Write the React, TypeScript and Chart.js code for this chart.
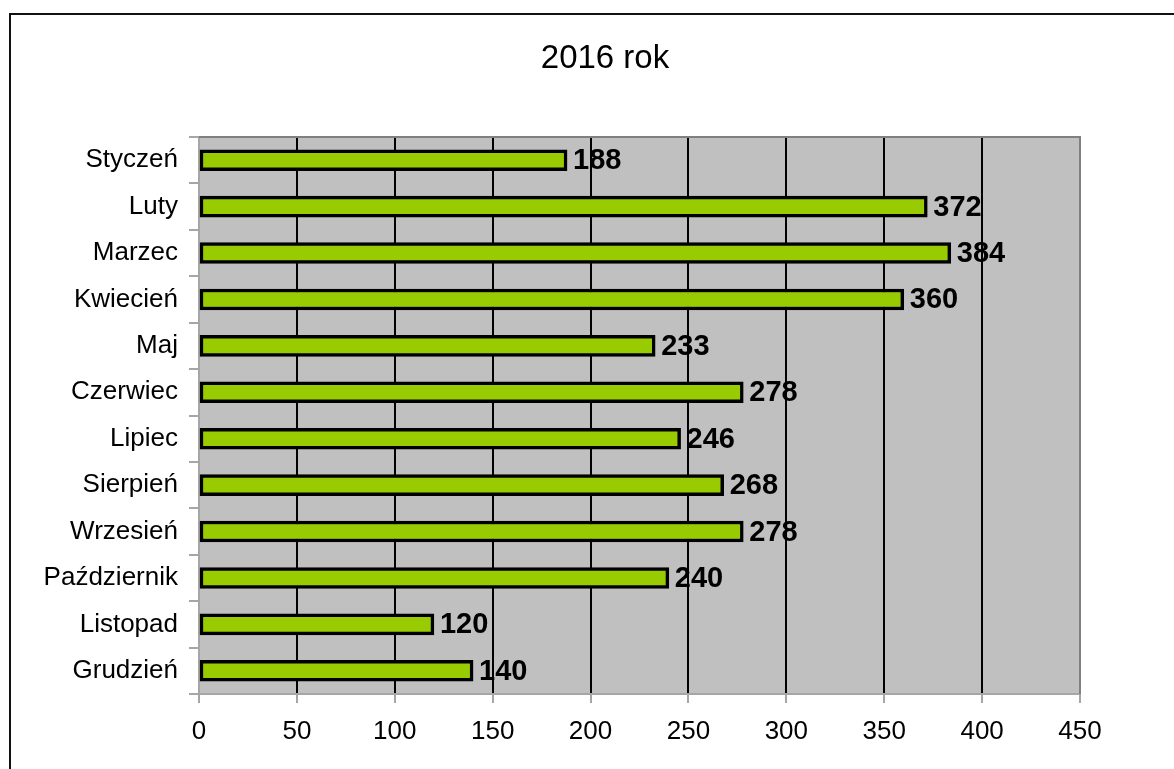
import React, { useEffect, useRef } from "react";
import { Chart, registerables } from "chart.js";

Chart.register(...registerables);

const months = [
  "Styczeń", "Luty", "Marzec", "Kwiecień", "Maj", "Czerwiec",
  "Lipiec", "Sierpień", "Wrzesień", "Październik", "Listopad", "Grudzień",
];
const values = [188, 372, 384, 360, 233, 278, 246, 268, 278, 240, 120, 140];
const titleText = "2016 rok";
const xMin = 0;
const xMax = 450;
const xStep = 50;

const FONT = "'Liberation Sans', Arial, sans-serif";

const framePlugin = {
  id: "framePlugin",
  beforeDraw(chart: any) {
    const { ctx, chartArea } = chart;
    ctx.save();
    ctx.fillStyle = "#ffffff";
    ctx.fillRect(0, 0, chart.width, chart.height);
    ctx.fillStyle = "#c0c0c0";
    ctx.fillRect(chartArea.left, chartArea.top, chartArea.right - chartArea.left, chartArea.bottom - chartArea.top);
    ctx.strokeStyle = "#111111";
    ctx.lineWidth = 2;
    ctx.strokeRect(10, 14, chart.width + 40, chart.height + 40);
    // title
    ctx.fillStyle = "#000000";
    ctx.font = `33px ${FONT}`;
    ctx.textAlign = "center";
    ctx.textBaseline = "middle";
    ctx.fillText(titleText, 605, 59);
    ctx.restore();
  },
  afterDatasetsDraw(chart: any) {
    const { ctx, chartArea } = chart;
    ctx.save();
    ctx.strokeStyle = "#808080";
    ctx.lineWidth = 2;
    ctx.beginPath();
    ctx.moveTo(chartArea.left, chartArea.top);
    ctx.lineTo(chartArea.right, chartArea.top);
    ctx.lineTo(chartArea.right, chartArea.bottom);
    ctx.stroke();
    // data labels
    const meta = chart.getDatasetMeta(0);
    ctx.fillStyle = "#000000";
    ctx.font = `bold 29px ${FONT}`;
    ctx.textAlign = "left";
    ctx.textBaseline = "middle";
    meta.data.forEach((bar: any, i: number) => {
      ctx.fillText(String(values[i]), bar.x + 6, bar.y + 1);
    });
    ctx.restore();
  },
};

export default function App() {
  const ref = useRef<HTMLCanvasElement | null>(null);
  useEffect(() => {
    if (!ref.current) return;
    const chart = new Chart(ref.current, {
      type: "bar",
      data: {
        labels: months,
        datasets: [
          {
            data: values,
            backgroundColor: "#99cc00",
            borderColor: "#000000",
            borderWidth: 3.5,
            borderSkipped: false,
            barThickness: 21,
          },
        ],
      },
      options: {
        indexAxis: "y",
        animation: false,
        responsive: false,
        maintainAspectRatio: false,
        layout: { padding: { left: 0, right: 94, top: 137, bottom: 0 } },
        plugins: {
          legend: { display: false },
          tooltip: { enabled: false },
          title: { display: false },
        },
        scales: {
          x: {
            type: "linear",
            min: xMin,
            max: xMax,
            afterFit: (s: any) => { s.height = 75; },
            ticks: {
              stepSize: xStep,
              color: "#000000",
              font: { family: FONT, size: 26 },
              padding: 13,
            },
            grid: {
              color: (c: any) =>
                c.tick && (c.tick.value === xMin || c.tick.value === xMax) ? "rgba(0,0,0,0)" : "#000000",
              lineWidth: 2,
              tickColor: "#a6a6a6",
              tickLength: 9,
              drawTicks: true,
            },
            border: { display: true, color: "#a6a6a6", width: 2 },
          },
          y: {
            type: "category",
            afterFit: (s: any) => { s.width = 199; },
            ticks: {
              color: "#000000",
              font: { family: FONT, size: 26 },
              padding: 11,
            },
            grid: {
              offset: true,
              drawOnChartArea: false,
              tickColor: "#a6a6a6",
              tickLength: 10,
              lineWidth: 2,
            },
            border: { display: true, color: "#a6a6a6", width: 2 },
          },
        },
      },
      plugins: [framePlugin],
    });
    return () => chart.destroy();
  }, []);
  return (
    <div style={{ position: "absolute", left: 0, top: 0, width: 1174, height: 769 }}>
      <canvas ref={ref} width={1174} height={769} style={{ width: 1174, height: 769 }} />
    </div>
  );
}
